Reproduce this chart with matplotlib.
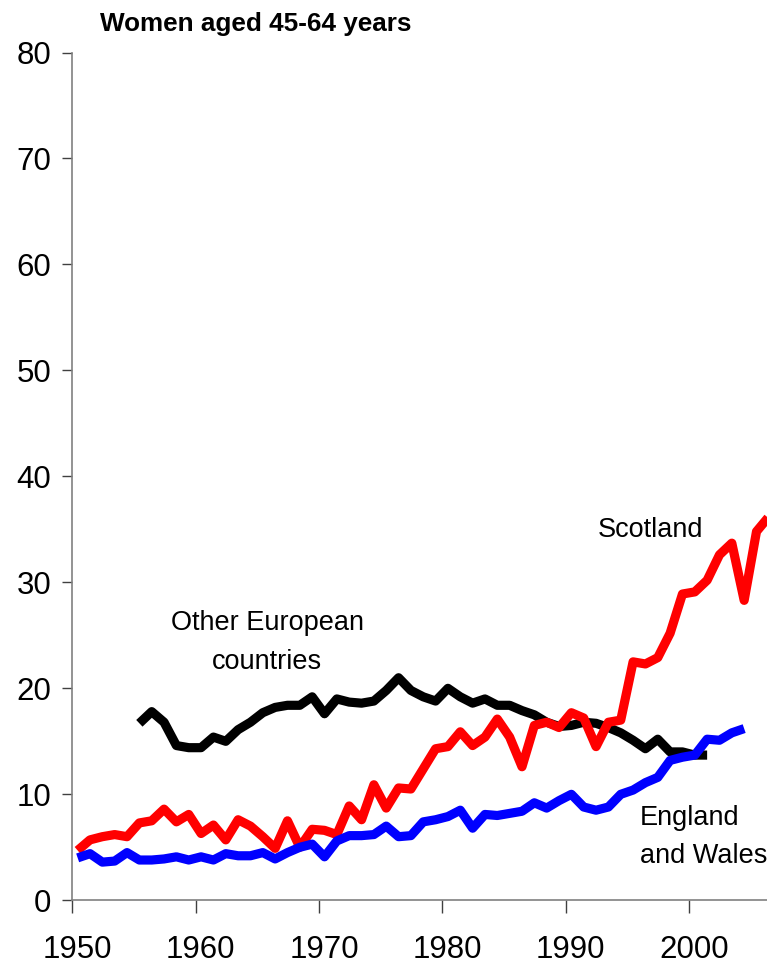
import numpy as np
import matplotlib.pyplot as plt
from matplotlib.transforms import ScaledTranslation

plt.rcParams['font.family'] = ['Liberation Sans', 'DejaVu Sans']

# Annual rates, women aged 45-64
years_scot = np.arange(1950, 2007)
scotland = [4.7, 5.7, 6.0, 6.2, 6.0, 7.3, 7.5, 8.6, 7.4, 8.1,
            6.3, 7.1, 5.7, 7.6, 7.0, 6.0, 4.9, 7.5, 5.0, 6.7,
            6.6, 6.2, 8.9, 7.6, 10.9, 8.7, 10.6, 10.5, 12.4, 14.3,
            14.5, 15.9, 14.6, 15.4, 17.1, 15.4, 12.6, 16.5, 16.8, 16.3,
            17.7, 17.2, 14.5, 16.8, 17.0, 22.5, 22.3, 22.9, 25.2, 28.9,
            29.1, 30.2, 32.6, 33.7, 28.3, 34.8, 36.2]

years_ew = np.arange(1950, 2005)
england_wales = [4.0, 4.4, 3.6, 3.7, 4.5, 3.8, 3.8, 3.9, 4.1, 3.8,
                 4.1, 3.8, 4.4, 4.2, 4.2, 4.5, 3.9, 4.5, 5.0, 5.3,
                 4.1, 5.6, 6.1, 6.1, 6.2, 7.0, 6.0, 6.1, 7.4, 7.6,
                 7.9, 8.5, 6.8, 8.1, 8.0, 8.2, 8.4, 9.2, 8.7, 9.4,
                 10.0, 8.8, 8.5, 8.8, 10.0, 10.4, 11.1, 11.6, 13.2, 13.5,
                 13.7, 15.2, 15.1, 15.8, 16.2]

years_eu = np.arange(1955, 2002)
other_europe = [16.7, 17.8, 16.8, 14.6, 14.4, 14.4, 15.4, 15.0, 16.1, 16.8,
                17.7, 18.2, 18.4, 18.4, 19.2, 17.6, 19.0, 18.7, 18.6, 18.8,
                19.8, 21.0, 19.8, 19.2, 18.8, 20.0, 19.2, 18.6, 19.0, 18.4,
                18.4, 17.9, 17.5, 16.8, 16.4, 16.5, 16.8, 16.7, 16.3, 15.8,
                15.1, 14.3, 15.2, 14.0, 14.0, 13.7, 13.7]

fig = plt.figure(figsize=(7.67, 9.67), dpi=100)
ax = fig.add_axes([0.094, 0.069, 0.906, 0.8767])

lw = 6.6
# points sit mid-year
ax.plot(years_eu + 0.45, other_europe, color='black', lw=lw, solid_capstyle='butt')
ax.plot(years_scot + 0.45, scotland, color='#ff0000', lw=lw, solid_capstyle='butt')
ax.plot(years_ew + 0.45, england_wales, color='#0000ff', lw=lw, solid_capstyle='butt')

ax.set_xlim(1950, 2006.3)
ax.set_ylim(0, 80)
ax.set_xticks(range(1950, 2001, 10))
ax.set_yticks(range(0, 81, 10))

for s in ['top', 'right']:
    ax.spines[s].set_visible(False)
for s in ['left', 'bottom']:
    ax.spines[s].set_color('#808080')
    ax.spines[s].set_linewidth(1.2)

ax.tick_params(axis='y', length=7, width=1, color='#404040', pad=8, labelsize=22.5)
ax.tick_params(axis='x', length=9, width=1, color='#404040', pad=16, labelsize=22.5)

# x labels sit a little to the right of their ticks
shift = ScaledTranslation(5 / 100, 0, fig.dpi_scale_trans)
for lab in ax.get_xticklabels():
    lab.set_transform(lab.get_transform() + shift)

fig.text(0.13, 0.968, 'Women aged 45-64 years', fontsize=18.8, fontweight='bold',
         va='baseline', ha='left')

ax.text(1965.8, 25.5, 'Other European', fontsize=19.5, ha='center', va='baseline')
ax.text(1965.8, 21.8, 'countries', fontsize=19.5, ha='center', va='baseline')
ax.text(1996.9, 34.25, 'Scotland', fontsize=19.5, ha='center', va='baseline')
ax.text(1996.0, 7.1, 'England', fontsize=19.5, ha='left', va='baseline')
ax.text(1996.0, 3.5, 'and Wales', fontsize=19.5, ha='left', va='baseline')

fig.savefig('out.png', dpi=100)
